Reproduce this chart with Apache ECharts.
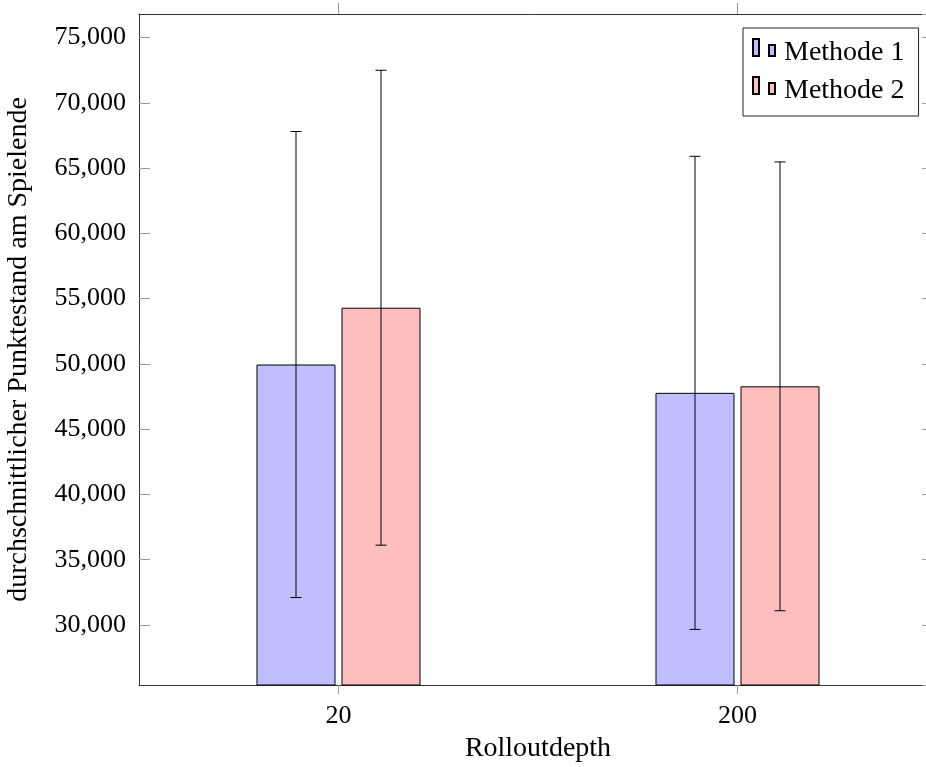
<!DOCTYPE html>
<html>
<head>
<meta charset="utf-8">
<script src="https://cdn.jsdelivr.net/npm/echarts@6/dist/echarts.min.js"></script>
<style>
  html, body { margin: 0; padding: 0; background: #fff; }
  #chart { width: 926px; height: 767px; }
</style>
</head>
<body>
<div id="chart"></div>
<script>
// Rollout depths on the x axis
const categories = ['20', '200'];
// Average final score per method
const method1Mean = [49950, 47780];
const method2Mean = [54300, 48280];
// Standard deviation (symmetric error bars)
const method1Err = [17850, 18120];
const method2Err = [18190, 17190];
// Value axis range
const yMin = 25400;
const yMax = 76800;

const FONT = '"Liberation Serif", "DejaVu Serif", serif';
const FS_TICK = 26;
const FS_TEXT = 28;
const BAR_W = 79;
const BAR_OFFSET = 42.5;   // half of (bar width + gap)
const CAP = 5.5;

function errData(mean, err) {
  return mean.map((m, i) => [i, m - err[i], m + err[i]]);
}

function errorBarRenderer(offset) {
  return function (params, api) {
    const idx = api.value(0);
    const lo = api.coord([idx, api.value(1)]);
    const hi = api.coord([idx, api.value(2)]);
    const x = lo[0] + offset;
    const style = { stroke: '#000', lineWidth: 1, fill: null };
    return {
      type: 'group',
      children: [
        { type: 'line', shape: { x1: x, y1: hi[1], x2: x, y2: lo[1] }, style },
        { type: 'line', shape: { x1: x - CAP, y1: hi[1], x2: x + CAP, y2: hi[1] }, style },
        { type: 'line', shape: { x1: x - CAP, y1: lo[1], x2: x + CAP, y2: lo[1] }, style }
      ]
    };
  };
}

const fmt = v => (v % 5000 === 0 ? v.toLocaleString('en-US') : '');
// Two small bars; the empty move at the bottom keeps them raised within the row
const legendIcon = 'path://M0,0L6,0L6,17L0,17Z M16,6L22,6L22,17L16,17Z M0,27L0,27';

const chart = echarts.init(document.getElementById('chart'), null, { renderer: 'canvas' });
chart.setOption({
  animation: false,
  backgroundColor: '#fff',
  textStyle: { fontFamily: FONT },
  grid: { left: 139, top: 14, width: 798, height: 671, show: false, containLabel: false, outerBoundsMode: 'none' },
  legend: {
    data: ['Methode 1', 'Methode 2'],
    orient: 'vertical',
    left: 743,
    top: 28,
    padding: [10, 14, 11, 9],
    itemGap: 9,
    itemWidth: 22,
    itemHeight: 27,
    icon: legendIcon,
    borderColor: '#222',
    borderWidth: 1,
    backgroundColor: '#fff',
    textStyle: { fontFamily: FONT, fontSize: FS_TEXT, color: '#000', padding: [0, 0, 0, 4] }
  },
  xAxis: [
    {
      type: 'category',
      data: categories,
      position: 'bottom',
      name: 'Rolloutdepth',
      nameLocation: 'middle',
      nameGap: 50,
      nameTextStyle: { fontFamily: FONT, fontSize: FS_TEXT, color: '#000' },
      axisLine: { show: true, lineStyle: { color: '#333', width: 1 } },
      axisTick: { show: true, alignWithLabel: true, inside: false, length: 9, lineStyle: { color: '#999' } },
      axisLabel: { fontFamily: FONT, fontSize: FS_TICK, color: '#000', margin: 18 },
      splitLine: { show: false }
    },
    {
      type: 'category',
      data: categories,
      position: 'top',
      axisLine: { show: true, lineStyle: { color: '#333', width: 1 } },
      axisTick: { show: true, alignWithLabel: true, inside: false, length: 11, lineStyle: { color: '#999' } },
      axisLabel: { show: false },
      splitLine: { show: false }
    }
  ],
  yAxis: [
    {
      type: 'value',
      position: 'left',
      min: yMin,
      max: yMax,
      splitNumber: 10,
      name: 'durchschnittlicher Punktestand am Spielende',
      nameLocation: 'middle',
      nameGap: 106,
      nameTextStyle: { fontFamily: FONT, fontSize: FS_TEXT, color: '#000' },
      axisLine: { show: true, lineStyle: { color: '#333', width: 1 } },
      axisTick: { show: true, inside: true, length: 11, lineStyle: { color: '#999' } },
      axisLabel: { fontFamily: FONT, fontSize: FS_TICK, color: '#000', margin: 13, formatter: fmt, showMinLabel: false, showMaxLabel: false },
      splitLine: { show: false }
    },
    {
      type: 'value',
      position: 'right',
      min: yMin,
      max: yMax,
      splitNumber: 10,
      axisLine: { show: true, lineStyle: { color: '#333', width: 1 } },
      axisTick: { show: true, inside: true, length: 15, lineStyle: { color: '#999' } },
      axisLabel: { show: false },
      splitLine: { show: false }
    }
  ],
  series: [
    {
      name: 'Methode 1',
      type: 'bar',
      data: method1Mean,
      barWidth: BAR_W,
      barGap: '7.6%',
      itemStyle: { color: 'rgb(191,191,255)', borderColor: '#000', borderWidth: 1 },
      z: 2
    },
    {
      name: 'Methode 2',
      type: 'bar',
      data: method2Mean,
      barWidth: BAR_W,
      barGap: '7.6%',
      itemStyle: { color: 'rgb(255,191,191)', borderColor: '#000', borderWidth: 1 },
      z: 2
    },
    {
      name: 'err1',
      type: 'custom',
      data: errData(method1Mean, method1Err),
      encode: { x: 0, y: [1, 2] },
      renderItem: errorBarRenderer(-BAR_OFFSET),
      z: 5
    },
    {
      name: 'err2',
      type: 'custom',
      data: errData(method2Mean, method2Err),
      encode: { x: 0, y: [1, 2] },
      renderItem: errorBarRenderer(BAR_OFFSET),
      z: 5
    }
  ]
});
</script>
</body>
</html>
